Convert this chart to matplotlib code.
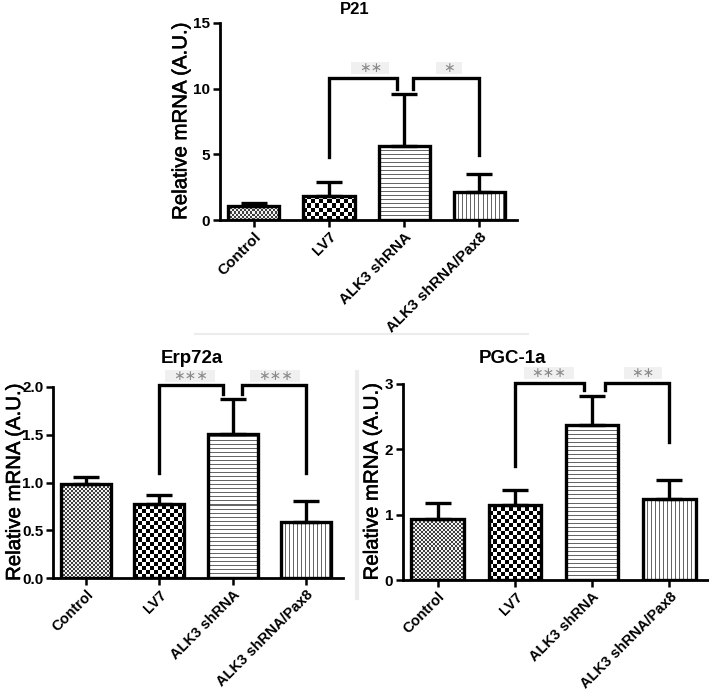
import numpy as np
import matplotlib
matplotlib.use("Agg")
import matplotlib.pyplot as plt
import matplotlib.patheffects as pe
from matplotlib.lines import Line2D
from matplotlib.patches import Rectangle
from matplotlib.transforms import Affine2D, ScaledTranslation

plt.rcParams['font.family'] = ['Liberation Sans', 'DejaVu Sans']

categories = ["Control", "LV7", "ALK3 shRNA", "ALK3 shRNA/Pax8"]

p21_mean = [1.07, 1.83, 5.65, 2.16]
p21_err_top = [1.32, 2.90, 9.62, 3.51]

erp_mean = [0.98, 0.78, 1.51, 0.59]
erp_err_top = [1.06, 0.87, 1.87, 0.81]

pgc_mean = [0.935, 1.155, 2.38, 1.24]
pgc_err_top = [1.175, 1.38, 2.82, 1.53]

# significance brackets: (x_start, y_start_bottom, x_end, y_end_bottom, y_top, label, label_x, label_y)
p21_sig = [(1, 4.83, 1.90, 9.97, 10.81, "\u2217\u2217", 1.55, 11.6),
           (2.12, 10.0, 3, 4.96, 10.81, "\u2217", 2.59, 11.6)]
erp_sig = [(1, 1.10, 1.86, 1.93, 2.02, "\u2217\u2217\u2217", 1.42, 2.12),
           (2.12, 1.93, 3, 1.10, 2.02, "\u2217\u2217\u2217", 2.58, 2.12)]
pgc_sig = [(1, 1.74, 1.89, 2.91, 3.02, "\u2217\u2217\u2217", 1.44, 3.17),
           (2.17, 2.91, 3, 2.11, 3.02, "\u2217\u2217", 2.66, 3.17)]

W, H = 709, 692
DPI = 100
fig = plt.figure(figsize=(W / DPI, H / DPI), dpi=DPI)


def px_axes(l, r, top, bottom):
    return fig.add_axes([l / W, 1 - bottom / H, (r - l) / W, (bottom - top) / H])


def pattern(kind, w, h):
    yy, xx = np.mgrid[0:h, 0:w]
    if kind == 0:   # fine checker
        a = np.where(((xx // 2) + (yy // 2)) % 2 == 0, 0.25, 0.95)
    elif kind == 1:  # coarse checker
        a = np.where(((xx // 4) + (yy // 4)) % 2 == 0, 0.0, 1.0)
    elif kind == 2:  # horizontal lines
        a = np.where(yy % 4 == 0, 0.4, 1.0)
    else:            # vertical lines
        a = np.where(xx % 4 == 0, 0.4, 1.0)
    return a


def panel(ax, means, tops, ylim, yticks, yfmt, sig, title, title_x, title_y,
          title_size, ylab_x, ylab_size, xlab_size):
    x = np.arange(len(categories))
    ax.set_xlim(-0.45, 3.5)
    ax.set_ylim(*ylim)
    bars = ax.bar(x, means, width=0.68, facecolor='none', edgecolor='black',
                  linewidth=2.4, zorder=3)
    ax.errorbar(x, means, yerr=[np.zeros(len(x)), np.array(tops) - np.array(means)],
                fmt='none', ecolor='black', elinewidth=2.4, capsize=9.5,
                capthick=2.4, zorder=2.8)
    for i, b in enumerate(bars):
        bb = b.get_window_extent()
        w = max(int(round(bb.width)), 1)
        h = max(int(round(bb.height)), 1)
        img = ax.imshow(pattern(i, w, h), cmap='gray', vmin=0, vmax=1,
                        extent=[b.get_x(), b.get_x() + b.get_width(), 0, b.get_height()],
                        origin='lower', interpolation='nearest', aspect='auto', zorder=2.5)
        img.set_clip_path(b)
    ax.set_xlim(-0.45, 3.5)
    ax.set_ylim(*ylim)
    for (x0, y0, x1, y1, yt, lab, lx, ly) in sig:
        ax.plot([x0, x0, x1, x1], [y0, yt, yt, y1], color='black', lw=2.4,
                solid_joinstyle='miter', clip_on=False, zorder=4)
        # light grey box behind the stars (size in pixels)
        bw = 12 * len(lab) + 14
        bh = 12
        tr = Affine2D() + ScaledTranslation(lx, ly, ax.transData)
        rect = Rectangle((-bw / 2, -bh / 2), bw, bh, transform=tr,
                         facecolor='#f0f0f0', edgecolor='none', zorder=3.9, clip_on=False)
        ax.add_artist(rect)
        ax.text(lx, ly, lab, ha='center', va='center', fontsize=10, color='#8a8a8a',
                family='DejaVu Sans', clip_on=False, zorder=4)
    ax.set_yticks(yticks)
    ax.set_yticklabels([yfmt.format(v) for v in yticks], fontsize=11, fontweight='bold')
    ax.set_xticks(x)
    ax.set_xticklabels(categories, rotation=45, ha='right', rotation_mode='anchor',
                       fontsize=xlab_size, fontweight='bold')
    ax.tick_params(axis='both', direction='out', length=5, width=1.8, pad=2)
    for s in ['top', 'right']:
        ax.spines[s].set_visible(False)
    for s in ['left', 'bottom']:
        ax.spines[s].set_linewidth(2.0)
    ylab = ax.set_ylabel("Relative mRNA (A.U.)", fontsize=ylab_size)
    ylab.set_path_effects([pe.withStroke(linewidth=0.4, foreground='black')])
    ax.yaxis.set_label_coords(ylab_x, 0.5)
    ax.set_title(title, x=title_x, y=title_y, pad=0, fontsize=title_size, fontweight='bold')


ax1 = px_axes(220, 517, 23, 220)
panel(ax1, p21_mean, p21_err_top, (0, 15), [0, 5, 10, 15], "{:.0f}", p21_sig,
      "P21", 0.455, 1.045, 12, -0.10, 14.7, 11)

ax2 = px_axes(53, 343, 387, 578)
panel(ax2, erp_mean, erp_err_top, (0, 2.0), [0.0, 0.5, 1.0, 1.5, 2.0], "{:.1f}", erp_sig,
      "Erp72a", 0.48, 1.125, 13.5, -0.10, 14.7, 10.5)

ax3 = px_axes(403, 708, 384, 580)
panel(ax3, pgc_mean, pgc_err_top, (0, 3), [0, 1, 2, 3], "{:.0f}", pgc_sig,
      "PGC-1a", 0.36, 1.107, 13.5, -0.07, 14.7, 10.5)

# faint separators
fig.add_artist(Line2D([195 / W, 528 / W], [1 - 334 / H, 1 - 334 / H],
                      color='#ececec', lw=1.5, transform=fig.transFigure))
fig.add_artist(Line2D([357 / W, 357 / W], [1 - 372 / H, 1 - 598 / H],
                      color='#ececec', lw=3, transform=fig.transFigure))

fig.savefig("out.png", dpi=DPI)
